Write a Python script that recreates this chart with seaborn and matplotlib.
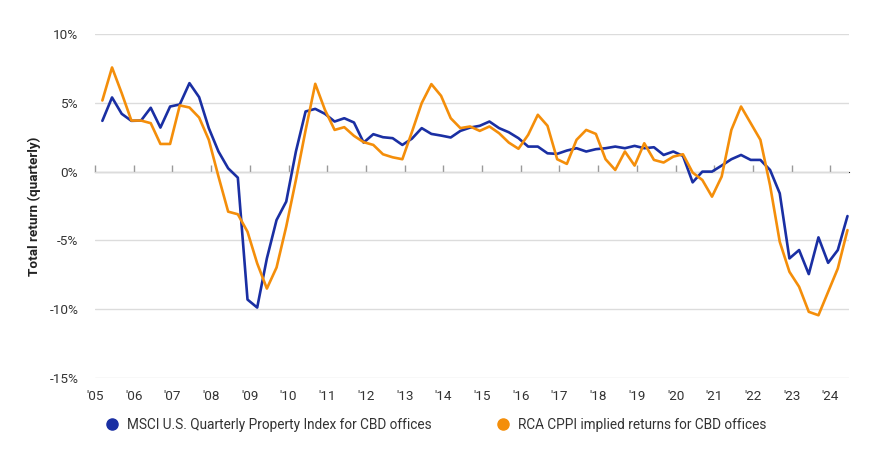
import seaborn as sns
import pandas as pd
import numpy as np
from matplotlib import pyplot as plt
from matplotlib.lines import Line2D

sns.set_style('white')
plt.rcParams['font.family'] = ['Roboto', 'DejaVu Sans']

# quarterly total returns (%), 2005 Q1 .. 2024 Q2
first_year = 2005
msci = [3.69, 5.39, 4.2, 3.69, 3.71, 4.64, 3.2, 4.73, 4.88, 6.43,
        5.41, 3.16, 1.46, 0.24, -0.44, -9.3, -9.88, -6.31, -3.52, -2.18,
        1.46, 4.37, 4.56, 4.2, 3.64, 3.88, 3.57, 2.11, 2.72, 2.5,
        2.43, 1.94, 2.4, 3.16, 2.74, 2.62, 2.48, 2.96, 3.2, 3.33,
        3.64, 3.16, 2.86, 2.43, 1.82, 1.82, 1.33, 1.29, 1.53, 1.7,
        1.46, 1.63, 1.7, 1.82, 1.7, 1.87, 1.7, 1.77, 1.21, 1.46,
        1.14, -0.78, 0.0, 0.0, 0.44, 0.9, 1.21, 0.85, 0.85, 0.12,
        -1.58, -6.31, -5.7, -7.45, -4.78, -6.63, -5.7, -3.23]
rca = [5.17, 7.57, 5.7, 3.71, 3.71, 3.52, 2.01, 2.01, 4.81, 4.66,
       3.93, 2.31, -0.36, -2.91, -3.1, -4.37, -6.67, -8.5, -6.97, -4.0,
       -0.61, 3.0, 6.38, 4.49, 3.03, 3.23, 2.6, 2.14, 1.94, 1.26,
       1.04, 0.9, 2.9, 4.98, 6.36, 5.51, 3.88, 3.16, 3.28, 2.96,
       3.28, 2.79, 2.11, 1.66, 2.67, 4.13, 3.33, 0.9, 0.56, 2.31,
       3.03, 2.74, 0.9, 0.12, 1.46, 0.44, 2.06, 0.85, 0.66, 1.09,
       1.26, -0.07, -0.61, -1.82, -0.36, 3.03, 4.73, 3.52, 2.31, -1.0,
       -5.1, -7.28, -8.37, -10.19, -10.44, -8.74, -7.04, -4.25]
series_names = ['MSCI U.S. Quarterly Property Index for CBD offices',
                'RCA CPPI implied returns for CBD offices']
colors = ['#1a2fa3', '#f48e0a']
years = list(range(2005, 2025))
year_labels = ["'%02d" % (y % 100) for y in years]

t = first_year + 0.19 + 0.25 * np.arange(len(msci))
df = pd.DataFrame({
    't': np.concatenate([t, t]),
    'ret': msci + rca,
    'series': [series_names[0]] * len(msci) + [series_names[1]] * len(rca),
})

fig = plt.figure(figsize=(8.7, 4.5), dpi=100)
ax = fig.add_axes([0.1092, 0.16, 0.8667, 0.7644])

sns.lineplot(data=df, x='t', y='ret', hue='series', palette=colors,
             linewidth=1.9, legend=False, ax=ax)

ax.set_ylim(-15, 10)
ax.set_xlim(2005, 2024.48)
ax.set_yticks([-15, -10, -5, 0, 5, 10])
ax.set_yticklabels(['%d%%' % v for v in [-15, -10, -5, 0, 5, 10]])
ax.yaxis.grid(True, color='#dcdcdc', linewidth=1)
ax.set_axisbelow(True)
for s in ax.spines.values():
    s.set_visible(False)
ax.set_xticks(years)
ax.set_xticklabels(year_labels)
ax.tick_params(axis='x', length=0, pad=9, labelsize=9.7, labelcolor='#333333')
ax.tick_params(axis='y', length=0, pad=12, labelsize=9.7, labelcolor='#333333')
ax.set_xlabel('')
ax.set_ylabel('Total return (quarterly)', fontsize=9.7, fontweight='bold',
              color='#222222', labelpad=6)

# zero line with year ticks
sec = ax.secondary_xaxis(0.6)
sec.set_xticks(years)
sec.set_xticklabels([])
sec.spines['bottom'].set_color('#9a9a9a')
sec.spines['bottom'].set_linewidth(1.2)
sec.tick_params(axis='x', direction='out', length=5, color='#9a9a9a', width=1)

handles = [Line2D([], [], marker='o', linestyle='', markersize=8,
                  color=c) for c in colors]
fig.legend(handles, series_names, loc='center', bbox_to_anchor=(0.497, 0.055),
           ncol=2, frameon=False, fontsize=9.8, handletextpad=0.1,
           columnspacing=4.3, labelcolor='#333333')

fig.savefig('out.png', dpi=100)
